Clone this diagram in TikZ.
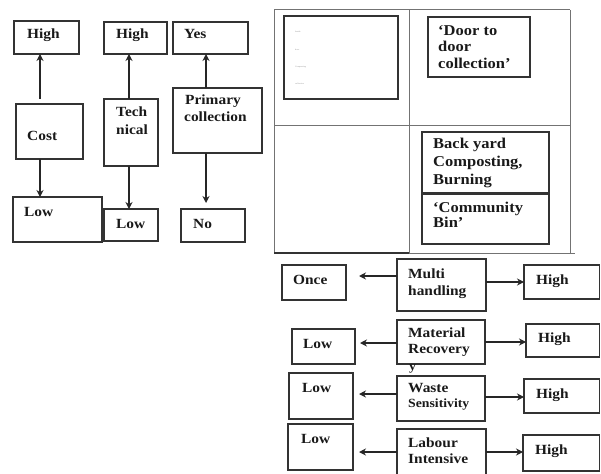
\documentclass[tikz,border=0pt]{standalone}
\usepackage{fontspec}
\setmainfont{Liberation Serif}[FakeStretch=1.1]
\usetikzlibrary{arrows.meta}
\tikzset{
  box/.style={draw=black!80, line width=1.1pt, inner sep=0pt, outer sep=0pt},
  txt/.style={anchor=base west, inner sep=0pt, text=black!90, font=\fontsize{14}{17}\selectfont\bfseries},
  bigtxt/.style={txt, font=\fontsize{15}{17}\selectfont\bfseries},
  smalltxt/.style={txt, font=\fontsize{12.5}{15}\selectfont\bfseries},
  tinytxt/.style={anchor=base west, inner sep=0pt, text=black!45, font=\fontsize{2}{2}\selectfont},
  arr/.style={draw=black!85, line width=1.2pt, -{Stealth[length=7pt,width=7pt]}},
  grid/.style={draw=black!55, line width=1pt}
}
\newcommand\bx[5]{\node[box, minimum width={(#4-#2)*1pt}, minimum height={(#5-#3)*1pt}, anchor=north west] (#1) at (#2,#3) {};}
\newcommand\tx[5][txt]{\node[#1] (#2) at (#3,#4) {#5};}
\begin{document}
\begin{tikzpicture}[x=1pt,y=-1pt]
\useasboundingbox (0,0) rectangle (601,473);
\clip (0,0) rectangle (601,473);
% ---------- left vertical scales ----------
\bx{hiA}{14}{21}{79}{54}   \tx{thiA}{27}{39}{High}
\bx{cost}{16}{104}{83}{159} \tx{tcost}{27}{140}{Cost}
\bx{loA}{13}{197}{102}{242} \tx{tloA}{24}{216}{Low}
\bx{hiB}{104}{22}{167}{54} \tx{thiB}{116}{39}{High}
\bx{tech}{104}{99}{158}{166} \tx{ttech1}{116}{117}{Tech} \tx{ttech2}{116}{135}{nical}
\bx{loB}{104}{209}{158}{241} \tx{tloB}{116}{228}{Low}
\bx{yes}{173}{22}{248}{54} \tx{tyes}{184}{39}{Yes}
\bx{prim}{173}{88}{262}{153} \tx{tprim1}{185}{105}{Primary} \tx{tprim2}{184}{122}{collection}
\bx{no}{181}{209}{245}{242} \tx{tno}{193}{228}{No}
\coordinate (xA) at (40,0);
\coordinate (xB) at (129,0);
\coordinate (xC) at (206,0);
\coordinate (cA) at (40,99);
\coordinate (cC) at (206,203);
\draw[arr] (cA) -- (xA |- hiA.south);
\draw[arr] (xA |- cost.south) -- (xA |- loA.north);
\draw[arr] (xB |- tech.north) -- (xB |- hiB.south);
\draw[arr] (xB |- tech.south) -- (xB |- loB.north);
\draw[arr] (xC |- prim.north) -- (xC |- yes.south);
\draw[arr] (xC |- prim.south) -- (cC);
% ---------- grid ----------
\draw[grid] (274,10) -- (570,10);
\draw[grid] (274,10) -- (274,253);
\draw[grid] (570,10) -- (570,253);
\draw[grid] (409,10) -- (409,253);
\draw[grid] (274,126) -- (570,126);
\draw[grid] (409,253) -- (575,253);
\draw[draw=black!80, line width=1.4pt] (274,253) -- (409,253);
\bx{inner}{284}{16}{398}{99}
\tx[tinytxt]{tin1}{295}{33}{Inside}
\tx[tinytxt]{tin2}{295}{51}{door}
\tx[tinytxt]{tin3}{295}{68}{Composting}
\tx[tinytxt]{tin4}{295}{85}{collection}
\bx{door}{428}{17}{530}{77}
\tx[bigtxt]{tdoor1}{438}{36}{‘Door to}
\tx[bigtxt]{tdoor2}{438}{52}{door}
\tx[bigtxt]{tdoor3}{438}{69}{collection’}
\bx{back}{422}{132}{549}{193}
\tx[bigtxt]{tback1}{433}{149}{Back yard}
\tx[bigtxt]{tback2}{433}{166}{Composting,}
\tx[bigtxt]{tback3}{433}{184}{Burning}
\bx{comm}{422}{194}{549}{244}
\tx[bigtxt]{tcomm1}{433}{212}{‘Community}
\tx[bigtxt]{tcomm2}{433}{227}{Bin’}
% ---------- horizontal scales ----------
\bx{once}{282}{265}{346}{300} \tx{tonce}{293}{284}{Once}
\bx{multi}{397}{259}{486}{311} \tx{tmul1}{408}{278}{Multi} \tx{tmul2}{408}{295}{handling}
\bx{hiC}{524}{265}{599.5}{299} \tx{thiC}{536}{284}{High}
\bx{loC}{292}{329}{355}{364} \tx{tloC}{303}{348}{Low}
\bx{mat}{397}{320}{485}{364} \tx{tmat1}{408}{337}{Material} \tx{tmat2}{408}{353}{Recovery}
\tx[smalltxt]{tmat3}{409}{370}{y}
\bx{hiD}{526}{324}{599.5}{357} \tx{thiD}{538}{342}{High}
\bx{loD}{289}{373}{353}{419} \tx{tloD}{302}{392}{Low}
\bx{waste}{397}{376}{485}{421} \tx{twas1}{408}{392}{Waste}
\tx[smalltxt]{twas2}{408}{407}{Sensitivity}
\bx{hiE}{524}{379}{599.5}{413} \tx{thiE}{536}{398}{High}
\bx{loE}{288}{424}{353}{470} \tx{tloE}{301}{443}{Low}
\bx{lab}{397}{429}{486}{478} \tx{tlab1}{408}{447}{Labour} \tx{tlab2}{408}{463}{Intensive}
\bx{hiF}{523}{435}{599.5}{471} \tx{thiF}{535}{454}{High}
\coordinate (eC) at (359,276);
\coordinate (eD) at (360,343);
\coordinate (eE) at (359,394);
\coordinate (eF) at (359,452);
\coordinate (yC) at (0,282);
\coordinate (yD) at (0,342);
\coordinate (yE) at (0,397);
\coordinate (yF) at (0,452);
\draw[arr] (multi.west |- eC) -- (eC);
\draw[arr] (multi.east |- yC) -- (hiC.west |- yC);
\draw[arr] (mat.west |- eD) -- (eD);
\draw[arr] (mat.east |- yD) -- (hiD.west |- yD);
\draw[arr] (waste.west |- eE) -- (eE);
\draw[arr] (waste.east |- yE) -- (hiE.west |- yE);
\draw[arr] (lab.west |- eF) -- (eF);
\draw[arr] (lab.east |- yF) -- (hiF.west |- yF);
\end{tikzpicture}
\end{document}
